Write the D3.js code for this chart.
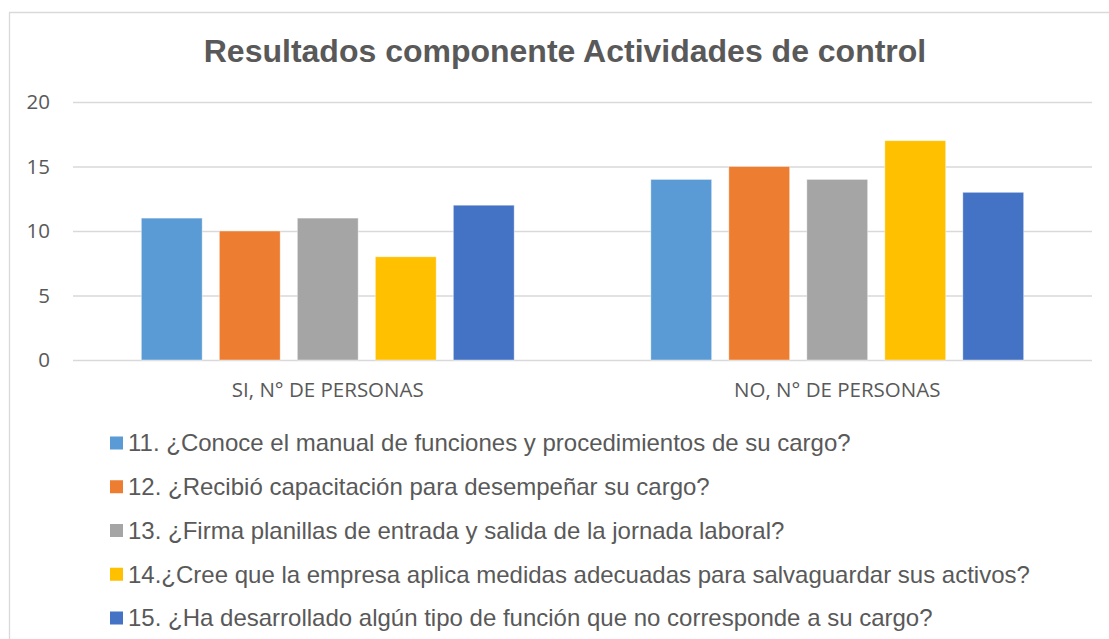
<!DOCTYPE html>
<html><head><meta charset="utf-8">
<script src="https://cdn.jsdelivr.net/npm/d3@7"></script>
<style>body{margin:0;background:#fff}</style>
</head><body>
<svg id="c" width="1109" height="639"></svg>
<script>
const categories = ["SI, N° DE PERSONAS", "NO, N° DE PERSONAS"];
const series = [
  "11. ¿Conoce el manual de funciones y procedimientos de su cargo?",
  "12. ¿Recibió capacitación para desempeñar su cargo?",
  "13. ¿Firma planillas de entrada y salida de la jornada laboral?",
  "14.¿Cree que la empresa aplica medidas adecuadas para salvaguardar sus activos?",
  "15. ¿Ha desarrollado algún tipo de función que no corresponde a su cargo?"
];
const colors = ["#5B9BD5", "#ED7D31", "#A5A5A5", "#FFC000", "#4472C4"];
const values = [
  [11, 14],
  [10, 15],
  [11, 14],
  [8, 17],
  [12, 13]
];
const yTicks = [0, 5, 10, 15, 20];
const title = "Resultados componente Actividades de control";

(function(){
const svg = d3.select("#c");
svg.append("path").attr("d","M9.5,639 L9.5,12.5 L1109,12.5").attr("fill","none").attr("stroke","#d9d9d9").attr("stroke-width",1.3);

const mLeft = 73, mRight = 1092, mTop = 102, mBottom = 360;
const y = d3.scaleLinear().domain([0, 20]).range([mBottom, mTop]);
const x0 = d3.scaleBand().domain(categories).range([mLeft, mRight]).padding(0);
const x1 = d3.scaleBand().domain(d3.range(series.length)).range([0, x0.bandwidth()]).paddingInner(0.22).paddingOuter(0.876);

svg.append("text").attr("x", 565).attr("y", 62).attr("text-anchor","middle")
  .attr("font-family","Liberation Sans, Arial, sans-serif").attr("font-weight","bold")
  .attr("font-size", 32).attr("fill","#595959").text(title);

const yAxis = d3.axisLeft(y).tickValues(yTicks).tickSize(-(mRight-mLeft)).tickPadding(23);
const gy = svg.append("g").attr("transform",`translate(${mLeft},0)`).call(yAxis);
gy.select(".domain").remove();
gy.selectAll(".tick line").attr("stroke","#d9d9d9").attr("stroke-width",1.3);
gy.selectAll(".tick text").attr("font-family","Open Sans, sans-serif").attr("font-size",20.5).attr("fill","#595959");

const g = svg.append("g");
categories.forEach((c, ci) => {
  series.forEach((s, si) => {
    g.append("rect")
      .attr("x", x0(c) + x1(si)).attr("width", x1.bandwidth())
      .attr("y", y(values[si][ci])).attr("height", y(0) - y(values[si][ci]))
      .attr("fill", colors[si]).attr("stroke","#fff").attr("stroke-opacity",0.5).attr("stroke-width",0.8);
  });
});

const xAxis = d3.axisBottom(x0).tickSize(0).tickPadding(22);
const gx = svg.append("g").attr("transform",`translate(0,${mBottom})`).call(xAxis);
gx.select(".domain").remove();
gx.selectAll(".tick text").attr("font-family","Open Sans, sans-serif").attr("font-size",20.5).attr("fill","#595959");

const legY = d3.scalePoint().domain(d3.range(series.length)).range([443, 618]);
const lg = svg.append("g");
series.forEach((s, i) => {
  lg.append("rect").attr("x",110).attr("y",legY(i)-6.5).attr("width",13).attr("height",13).attr("fill",colors[i]);
  lg.append("text").attr("x",128).attr("y",legY(i)).attr("dy","0.35em")
    .attr("font-family","Liberation Sans, Arial, sans-serif").attr("font-size",24).attr("fill","#595959").text(s);
});
})();
</script>
</body></html>
